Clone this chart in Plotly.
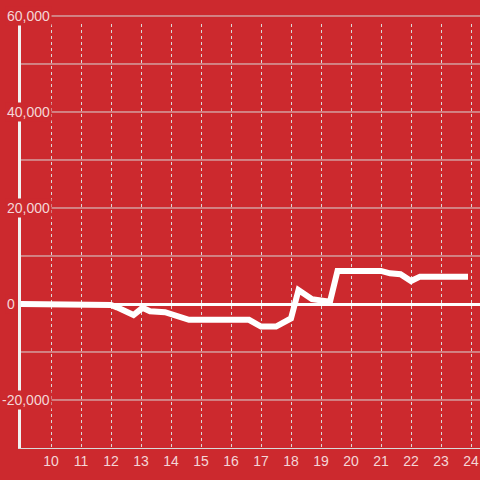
import plotly.graph_objects as go

# Data (hours vs value)
hours = [9.0, 10.6, 11.0, 12.0, 12.2, 12.75, 13.05, 13.3, 13.8, 14.3, 14.6,
         16.6, 17.0, 17.5, 18.0, 18.25, 18.7, 19.3, 19.55, 21.0, 21.3, 21.65,
         22.0, 22.3, 23.9]
values = [0, 0, -200, -200, -700, -2300, -800, -1500, -1700, -2900, -3300,
          -3300, -4700, -4700, -3000, 2900, 1000, 500, 6900, 6900, 6400, 6200,
          4800, 5700, 5700]

x_ticks = list(range(10, 25))
y_tick_vals = [60000, 40000, 20000, 0, -20000]
y_tick_text = ["60,000", "40,000", "20,000", "0", "-20,000"]
y_grid_vals = [60000, 50000, 40000, 30000, 20000, 10000, -10000, -20000]

Y_MIN, Y_MAX = -30000, 58333
X_MIN, X_MAX = 9.0, 24.3

BG = "#cc292e"
LABEL = "#f4d6d7"
GRID = "#d9d9d9"

fig = go.Figure()
fig.add_trace(go.Scatter(x=hours, y=values, mode="lines",
                         line=dict(color="white", width=6),
                         hoverinfo="skip"))

shapes = []
for gv in y_grid_vals:
    frac = (gv - Y_MIN) / (Y_MAX - Y_MIN)
    shapes.append(dict(type="line", xref="paper", yref="paper",
                       x0=0, x1=1, y0=frac, y1=frac,
                       line=dict(color=GRID, width=1), layer="below"))

annotations = []
for v, t in zip(y_tick_vals, y_tick_text):
    frac = (v - Y_MIN) / (Y_MAX - Y_MIN)
    annotations.append(dict(xref="paper", yref="paper", x=0, y=frac,
                            text=t, showarrow=False, xanchor="right",
                            yanchor="middle",
                            xshift=(-4 if v == 0 else 31),
                            font=dict(family="Liberation Sans, Arial", size=14, color=LABEL),
                            bgcolor=BG, borderpad=1))

fig.update_layout(
    width=480, height=480,
    margin=dict(l=21, r=0, t=24, b=32, autoexpand=False),
    paper_bgcolor=BG, plot_bgcolor=BG,
    showlegend=False,
    shapes=shapes,
    annotations=annotations,
    xaxis=dict(range=[X_MIN, X_MAX], tickvals=x_ticks,
               ticktext=[str(v) for v in x_ticks],
               showgrid=True, gridcolor=GRID, griddash="dot", gridwidth=1,
               showline=True, linecolor=GRID, linewidth=1,
               ticks="", zeroline=False, automargin=False,
               tickfont=dict(family="Liberation Sans, Arial", size=14, color=LABEL)),
    yaxis=dict(range=[Y_MIN, Y_MAX], showgrid=False, showticklabels=False,
               ticks="", showline=True, linecolor="#f2f2f2", linewidth=3,
               zeroline=True, zerolinecolor="white", zerolinewidth=3,
               automargin=False),
)

fig.write_html("out.html",
               config={"displayModeBar": False},
               post_script="document.body.style.margin='0';document.body.style.overflow='hidden';")
